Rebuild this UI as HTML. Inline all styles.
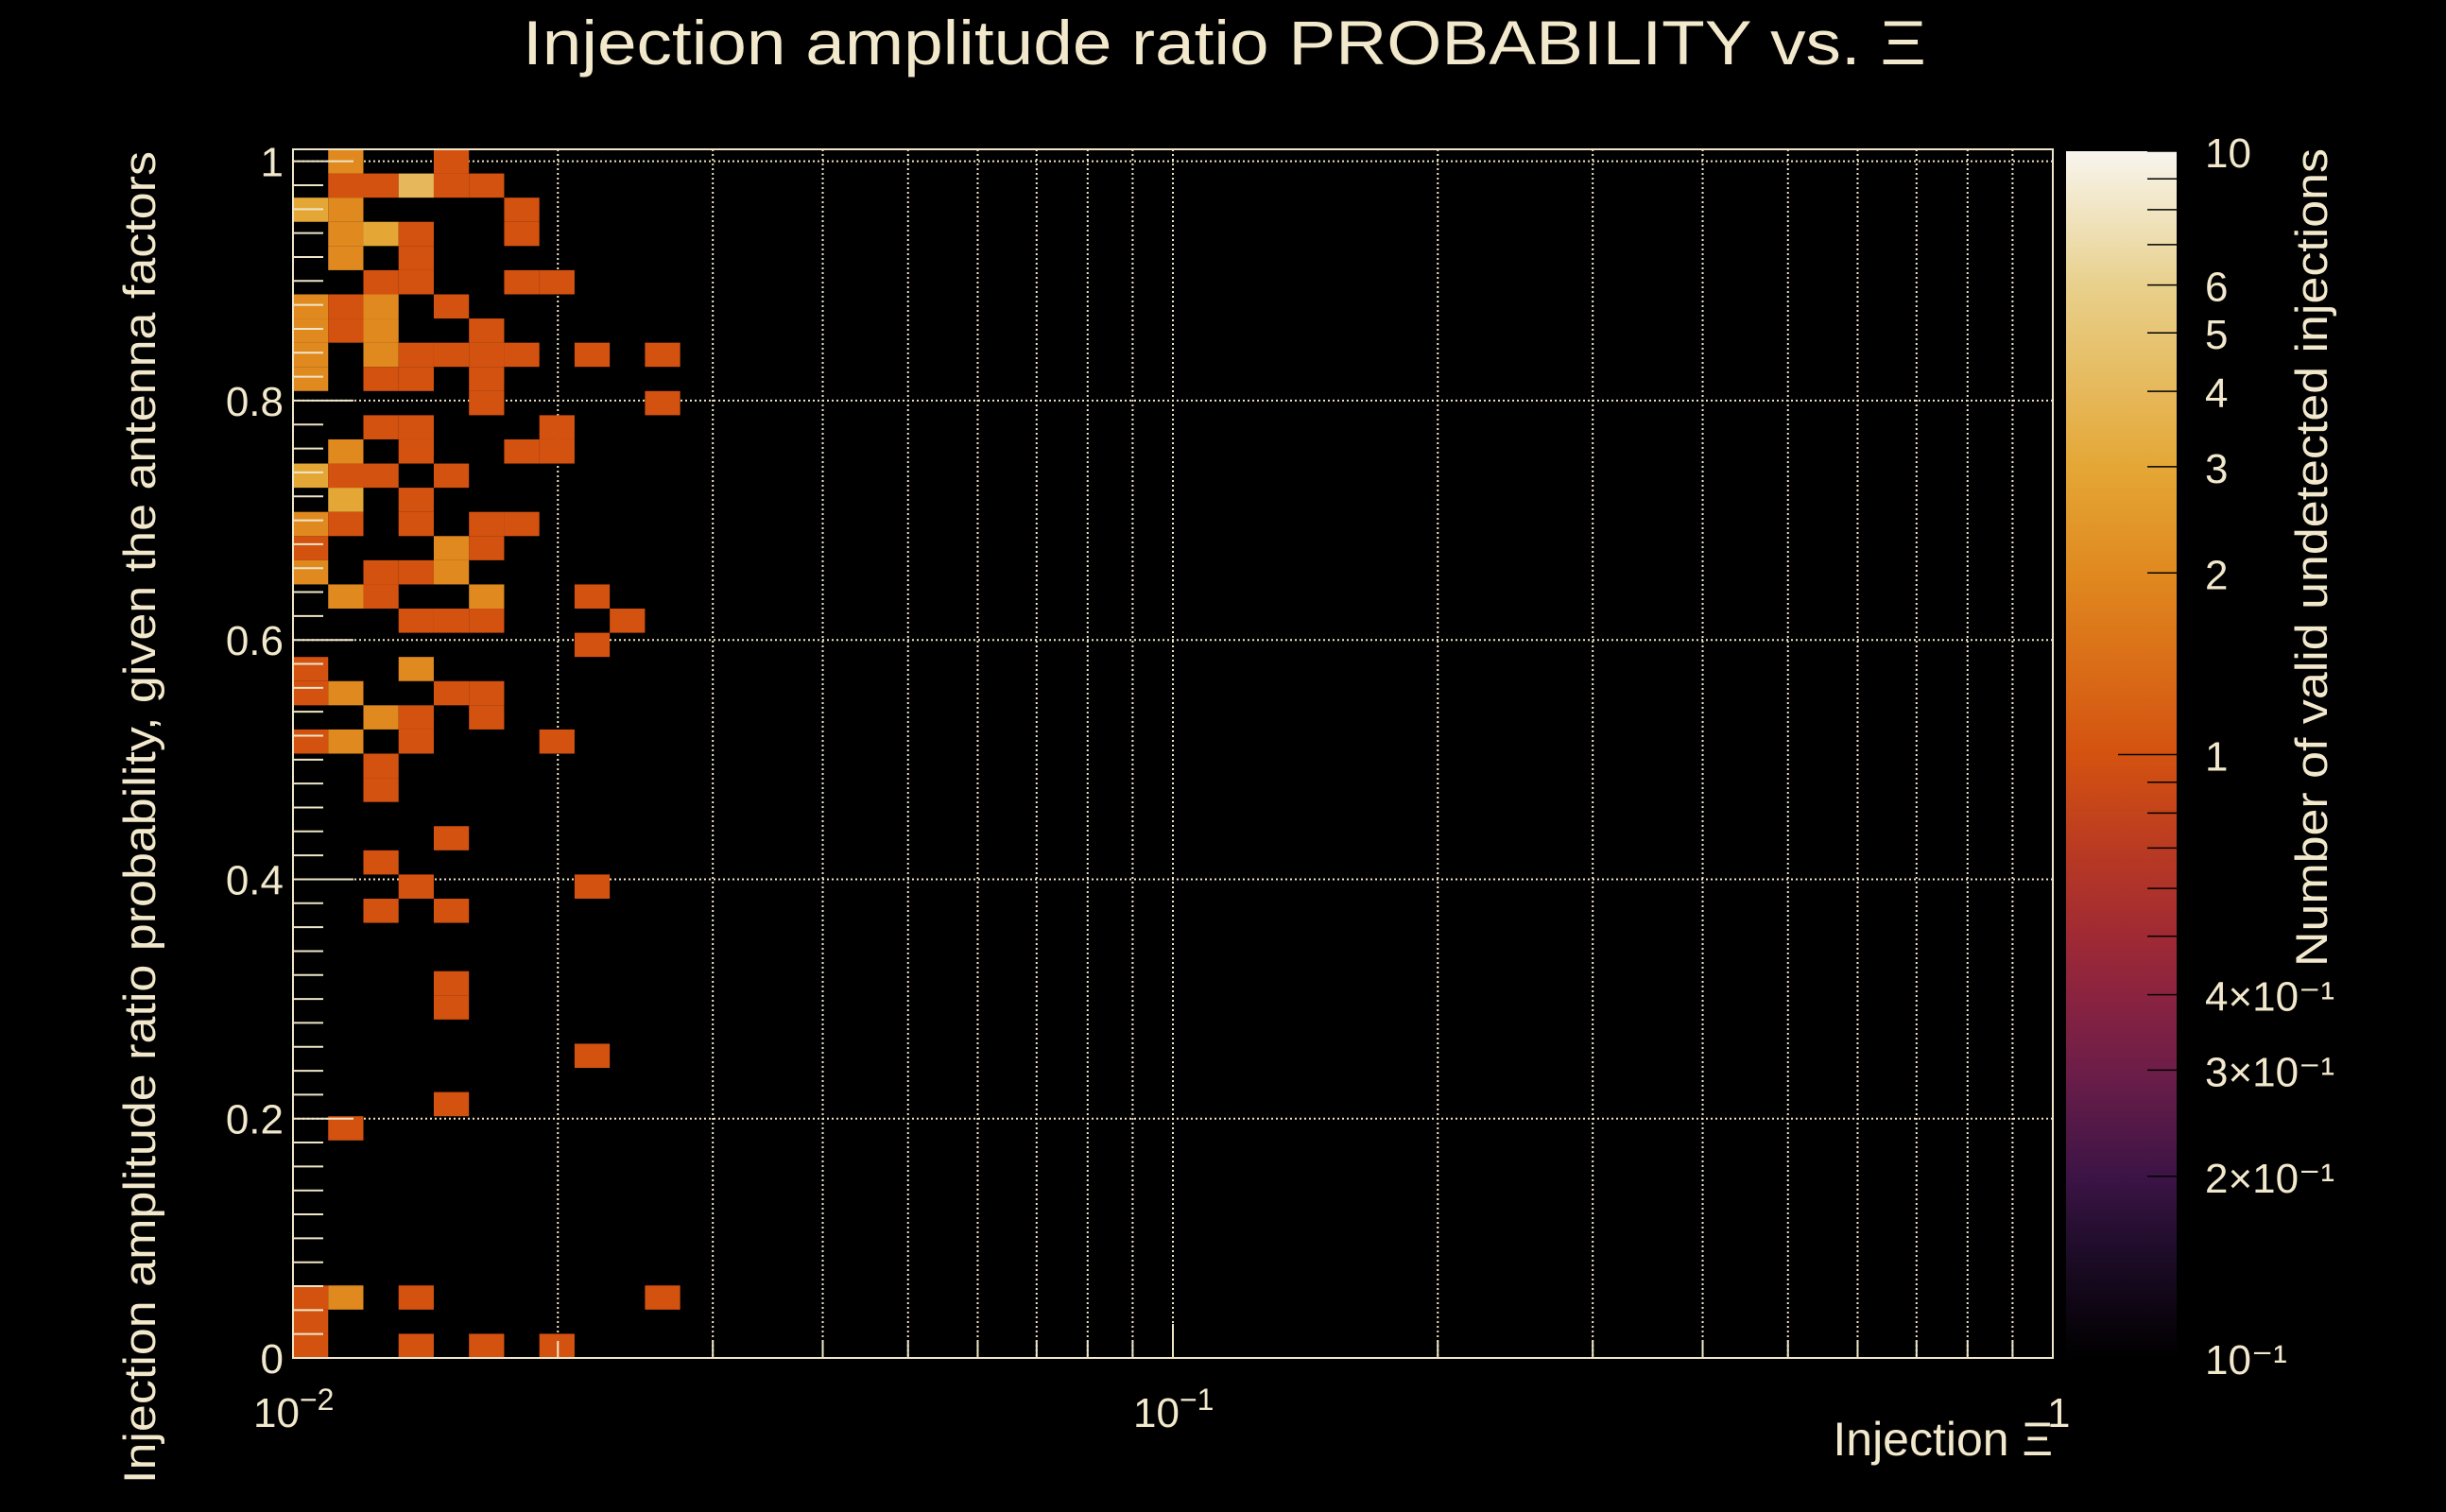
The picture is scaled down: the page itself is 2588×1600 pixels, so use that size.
<!DOCTYPE html>
<html><head><meta charset="utf-8"><style>
html,body{margin:0;padding:0;background:#000;}
svg{display:block;}
text{font-family:"Liberation Sans",sans-serif;fill:#f2e8cc;}
</style></head><body>
<svg id="chart" width="2588" height="1600" viewBox="0 0 2588 1600" xmlns="http://www.w3.org/2000/svg">
<rect x="0" y="0" width="2588" height="1600" fill="#000"/>
<g id="grid"></g>
<g id="cells"></g>
<g id="axes"></g>
<g id="cbar"></g>
<text x="553" y="68" font-size="66" textLength="1485" lengthAdjust="spacingAndGlyphs">Injection amplitude ratio PROBABILITY vs.  Ξ</text>
<text x="2172" y="1540" font-size="50" text-anchor="end">Injection Ξ</text>
<text transform="translate(164,160) rotate(-90)" font-size="47" text-anchor="end" textLength="1410" lengthAdjust="spacingAndGlyphs">Injection amplitude ratio probability, given the antenna factors</text>
<text transform="translate(2462,157) rotate(-90)" font-size="47" text-anchor="end" textLength="866" lengthAdjust="spacingAndGlyphs">Number of valid undetected injections</text>
</svg>
<script>
// bin columns (index along log x, 0.04 decade each from 1e-2), rows (index of 0.0202 in y from 0), counts
const cellCols = [1,4, 1,2,3,4,5, 0,1,6, 1,2,3,6, 1,3, 2,3,6,7, 0,1,2,4, 0,1,2,5, 0,2,3,4,5,6,8,10, 0,2,3,5, 5,10, 2,3,7, 1,3,6,7, 0,1,2,4, 1,3, 0,1,3,5,6, 0,4,5, 0,2,3,4, 1,2,5,8, 3,4,5,9, 8, 0,3, 0,1,4,5, 2,3,5, 0,1,3,7, 2, 2, 4, 2, 3,8, 2,4, 4, 4, 8, 4, 1, 0,1,3,10, 0, 0,3,5,7];
const cellRows = [49,49, 48,48,48,48,48, 47,47,47, 46,46,46,46, 45,45, 44,44,44,44, 43,43,43,43, 42,42,42,42, 41,41,41,41,41,41,41,41, 40,40,40,40, 39,39, 38,38,38, 37,37,37,37, 36,36,36,36, 35,35, 34,34,34,34,34, 33,33,33, 32,32,32,32, 31,31,31,31, 30,30,30,30, 29, 28,28, 27,27,27,27, 26,26,26, 25,25,25,25, 24, 23, 21, 20, 19,19, 18,18, 15, 14, 12, 10, 9, 2,2,2,2, 1, 0,0,0,0];
const cellCounts = [2,1, 1,1,4,1,1, 3,2,1, 2,3,1,1, 2,1, 1,1,1,1, 2,1,2,1, 2,1,2,1, 2,2,1,1,1,1,1,1, 2,1,1,1, 1,1, 1,1,1, 2,1,1,1, 3,1,1,1, 3,1, 2,1,1,1,1, 1,2,1, 2,1,1,2, 2,1,2,1, 1,1,1,1, 1, 1,2, 1,2,1,1, 2,1,1, 1,2,1,1, 1, 1, 1, 1, 1,1, 1,1, 1, 1, 1, 1, 1, 1,2,1,1, 1, 1,1,1,1];
const yTicks = [0,0.2,0.4,0.6,0.8,1];
const yTickLabels = ["0","0.2","0.4","0.6","0.8","1"];
const cbTicks = [10,6,5,4,3,2,1,0.4,0.3,0.2,0.1];
const cbTickLabels = ["10","6","5","4","3","2","1","4×10⁻¹","3×10⁻¹","2×10⁻¹","10⁻¹"];

const NS="http://www.w3.org/2000/svg";
const L=310,R=2172,T=158,B=1437;
const xs=v=>L+(Math.log10(v)+2)/2*(R-L);
const ys=v=>B-v/1.01*(B-T);
const CT=160,CB=1437,CL=2186,CR=2303;
const cs=v=>CB-(Math.log10(v)+1)/2*(CB-CT);
const stops=[[0,[0,0,0]],[0.088,[30,12,40]],[0.15,[60,20,70]],[0.24,[110,30,72]],[0.30,[138,35,64]],[0.35,[160,42,52]],[0.42,[185,58,34]],[0.5,[212,82,16]],[0.65,[224,137,31]],[0.739,[228,167,54]],[0.80,[230,184,90]],[0.889,[232,208,140]],[1,[248,245,238]]];
function col(v){let t=(Math.log10(v)+1)/2;t=Math.max(0,Math.min(1,t));
 for(let i=1;i<stops.length;i++){if(t<=stops[i][0]){const a=stops[i-1],b=stops[i];const f=(t-a[0])/(b[0]-a[0]);
 const c=a[1].map((x,j)=>Math.round(x+(b[1][j]-x)*f));return `rgb(${c.join(',')})`;}}return 'rgb(248,245,238)';}
function mk(tag,at,parent){const e=document.createElementNS(NS,tag);for(const k in at)e.setAttribute(k,at[k]);parent.appendChild(e);return e;}
const grid=document.getElementById('grid'),cells=document.getElementById('cells'),axes=document.getElementById('axes'),cbar=document.getElementById('cbar');
const gc='#efe6c8';
for(let d=-2;d<0;d++)for(let m=1;m<10;m++){const v=m*Math.pow(10,d);if(v<=0.01)continue;const x=xs(v);
 const g=mk('line',{x1:x,x2:x,y1:T,y2:B,stroke:gc,'stroke-width':2,'stroke-dasharray':'2 3'},grid);
 
 }
yTicks.forEach(v=>{if(v===0)return;const y=ys(v);
 const g=mk('line',{x1:L,x2:R,y1:y,y2:y,stroke:gc,'stroke-width':2,'stroke-dasharray':'2 3'},grid);
 
 });
const bw=0.04,bh=0.0202;
for(let i=0;i<cellCols.length;i++){const c=cellCols[i],r=cellRows[i];
 const x0=xs(Math.pow(10,-2+c*bw)),x1=xs(Math.pow(10,-2+(c+1)*bw));
 const y0=ys((r+1)*bh),y1=ys(r*bh);
 const e=mk('rect',{x:x0,y:y0,width:x1-x0,height:y1-y0,fill:col(cellCounts[i])},cells);
 
 }
const fr=mk('rect',{x:L,y:T,width:R-L,height:B-T,fill:'none',stroke:gc,'stroke-width':2},axes);


for(let k=0;k<=50;k++){const v=k*0.02;if(v>1.005)break;const y=ys(v);const major=(k%10===0);
 const t=mk('line',{x1:L,x2:L+(major?64:32),y1:y,y2:y,stroke:gc,'stroke-width':2},axes);
 
 }
yTicks.forEach((v,i)=>{const t=mk('text',{x:300,y:ys(v)+16,'font-size':44,'text-anchor':'end'},axes);t.textContent=yTickLabels[i];
 
 });
for(let d=-2;d<0;d++)for(let m=1;m<10;m++){const v=m*Math.pow(10,d);const x=xs(v);const major=m===1;
 const t=mk('line',{x1:x,x2:x,y1:B,y2:B-(major?36:18),stroke:gc,'stroke-width':2},axes);
 
 }
[["10","−2",xs(0.01)],["10","−1",xs(0.1)]].forEach(a=>{const t=mk('text',{x:a[2]-42,y:1510,'font-size':44},axes);
 t.textContent=a[0];const s=mk('tspan',{dy:-18,'font-size':32},t);s.textContent=a[1];
 
 });
const t1=mk('text',{x:R-6,y:1510,'font-size':44},axes);t1.textContent='1';


const defs=mk('defs',{},cbar);const lg=mk('linearGradient',{id:'cg',x1:0,y1:1,x2:0,y2:0},defs);
stops.forEach(s=>mk('stop',{offset:s[0],'stop-color':`rgb(${s[1].join(',')})`},lg));
const cr=mk('rect',{x:CL,y:CT,width:CR-CL,height:CB-CT,fill:'url(#cg)'},cbar);


[10,9,8,7,6,5,4,3,2,1,0.9,0.8,0.7,0.6,0.5,0.4,0.3,0.2].forEach(v=>{const y=cs(v);
 const t=mk('line',{x1:CR-(v===1?62:31),x2:CR,y1:y,y2:y,stroke:'#000','stroke-width':1.5},cbar);
 
 });
cbTicks.forEach((v,i)=>{const t=mk('text',{x:2333,y:cs(v)+17,'font-size':44},cbar);t.textContent=cbTickLabels[i];
 
 });
</script>
</body></html>
